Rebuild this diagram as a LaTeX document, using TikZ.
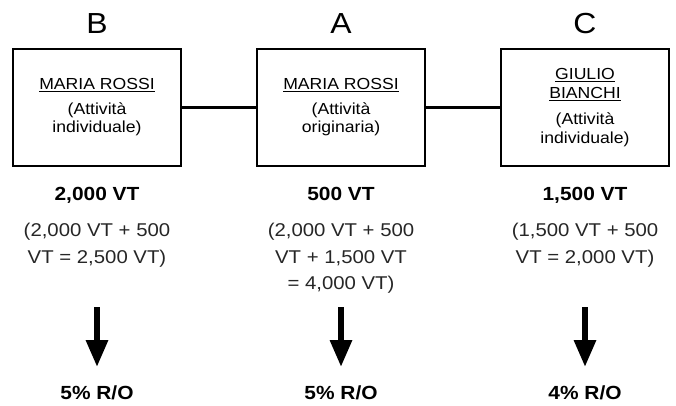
\documentclass[tikz,border=0pt]{standalone}
\usepackage{fontspec}
\setmainfont{Liberation Sans}[FakeStretch=1.1]
\usetikzlibrary{calc, positioning}
\usetikzlibrary{arrows.meta}

\tikzset{
  partybox/.style={draw, line width=2.5pt, minimum width=168pt, minimum height=117pt,
    inner sep=0pt, outer sep=0pt, align=center, font=\fontsize{16}{18.5}\selectfont},
  bigletter/.style={anchor=base, inner sep=0pt, font=\fontsize{29}{32}\selectfont},
  valtext/.style={anchor=base, inner sep=0pt, font=\fontsize{19}{22}\selectfont\bfseries},
  calctext/.style={anchor=base, inner sep=0pt, align=center, text=black!85,
    font=\fontsize{18.5}{26.5}\selectfont},
  ratetext/.style={anchor=base, inner sep=0pt, font=\fontsize{19}{22}\selectfont\bfseries},
  bigarrow/.style={line width=6pt, -{Triangle[length=27pt, width=21pt]}},
  link/.style={line width=2.5pt}
}

\begin{document}
\begin{tikzpicture}[x=1pt, y=-1pt]
\useasboundingbox (0,0) rectangle (676,405);
\def\xB{97}
\def\xA{341}
\def\xC{585}

% the three parties
\node[partybox] (boxB) at (\xB,107.5) {\underline{MARIA ROSSI}\\[6pt](Attività\\individuale)};
\node[partybox] (boxA) at (\xA,107.5) {\underline{MARIA ROSSI}\\[6pt](Attività\\originaria)};
\node[partybox] (boxC) at (\xC,107.5) {\underline{GIULIO}\\\underline{BIANCHI}\\[8pt](Attività\\individuale)};

\draw[link] (boxB.east) -- (boxA.west);
\draw[link] (boxA.east) -- (boxC.west);

\node[bigletter] (labB) at (\xB,33) {B};
\node[bigletter] (labA) at (\xA,33) {A};
\node[bigletter] (labC) at (\xC,33) {C};

% values
\node[valtext] (valB) at (\xB,200) {2,000 VT};
\node[valtext] (valA) at (\xA,200) {500 VT};
\node[valtext] (valC) at (\xC,200) {1,500 VT};

% base sits on the last line
\node[calctext] (calcB) at (\xB,263) {(2,000 VT + 500\\VT = 2,500 VT)};
\node[calctext] (calcA) at (\xA,289.5) {(2,000 VT + 500\\VT + 1,500 VT\\= 4,000 VT)};
\node[calctext] (calcC) at (\xC,263) {(1,500 VT + 500\\VT = 2,000 VT)};

% rates
\node[ratetext] (rateB) at (\xB,399) {5\% R/O};
\node[ratetext] (rateA) at (\xA,399) {5\% R/O};
\node[ratetext] (rateC) at (\xC,399) {4\% R/O};

\foreach \n/\x in {B/\xB, A/\xA, C/\xC} {
  \coordinate (top\n) at (\x,307);
  \coordinate (tip\n) at (\x,367);
  \draw[bigarrow] (top\n) -- (tip\n);
}
\end{tikzpicture}
\end{document}
